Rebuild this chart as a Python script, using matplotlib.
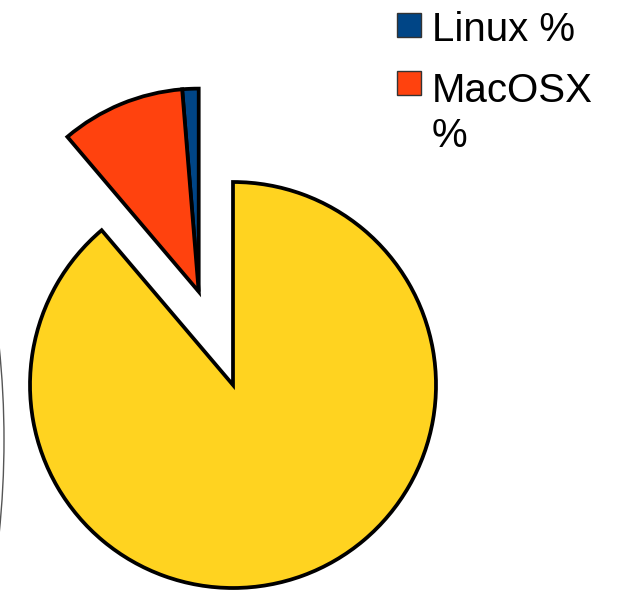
import math
import matplotlib
matplotlib.use("Agg")
import matplotlib.pyplot as plt
from matplotlib.patches import Rectangle, Arc

plt.rcParams['font.family'] = ['Liberation Sans', 'DejaVu Sans']

labels = ["Linux %", "MacOSX %", "Windows %"]
values = [1.3, 9.9, 88.8]
colors = ["#004586", "#ff420e", "#ffd320"]
exploded = [True, True, False]

W, H = 626, 591
R = 203
CX, CY = 233, H - 385
EXPLODE = 0.49 * R

fig = plt.figure(figsize=(W / 100, H / 100), dpi=100)
ax = fig.add_axes([0, 0, 1, 1])

wedges, _ = ax.pie(values, colors=colors, startangle=90, counterclock=True,
                   center=(CX, CY), radius=R,
                   wedgeprops=dict(edgecolor='black', linewidth=2.7, joinstyle='miter'))

# the small slices are pulled out together, along their common bisector
t1 = min(w.theta1 for w, e in zip(wedges, exploded) if e)
t2 = max(w.theta2 for w, e in zip(wedges, exploded) if e)
mid = math.radians((t1 + t2) / 2)
dx, dy = EXPLODE * math.cos(mid), EXPLODE * math.sin(mid)
for w, e in zip(wedges, exploded):
    if e:
        w.set_center((CX + dx, CY + dy))
    w.set_clip_on(False)

ax.set_xlim(0, W)
ax.set_ylim(0, H)
ax.set_aspect('equal')
ax.axis('off')

# partial neighbouring element at the left edge
ax.add_patch(Arc((-899, H - 440), 1806, 1806, theta1=-6, theta2=6,
                 color='#555555', linewidth=1.0))

# legend (first two entries visible)
leg_items = [(labels[0], colors[0], 37), (labels[1], colors[1], 95)]
for text, col, ybot in leg_items:
    ax.add_patch(Rectangle((397, H - ybot), 24, 24, facecolor=col,
                           edgecolor='#333333', linewidth=1.0, clip_on=False))
ax.text(432, H - 41, labels[0], fontsize=29, va='baseline', ha='left')
ax.text(432, H - 147, "MacOSX\n%", fontsize=29, va='baseline', ha='left',
        linespacing=1.22)

fig.savefig("out.png", dpi=100)
